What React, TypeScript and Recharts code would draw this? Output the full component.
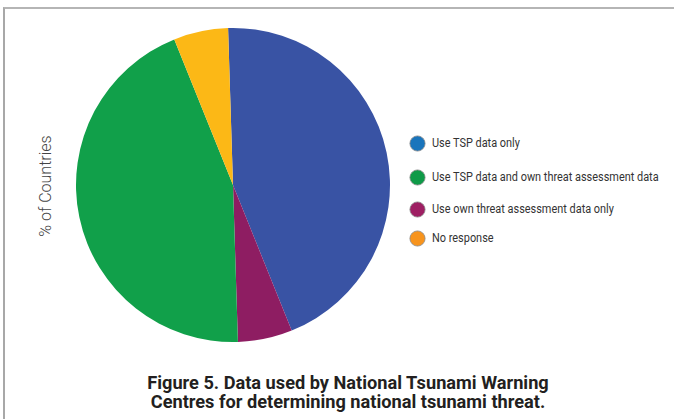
import React from 'react';
import { PieChart, Pie, Cell, Legend } from 'recharts';

// slices in clockwise order from the top
const sliceNames = [
  'Use TSP data only',
  'Use own threat assessment data only',
  'Use TSP data and own threat assessment data',
  'No response',
];
const sliceValues = [44.4, 5.6, 44.4, 5.6];
const sliceColors = ['#3953a4', '#8e1d62', '#11a04a', '#fcb816'];

// legend order and its own (brighter) swatch colours
const legendNames = [
  'Use TSP data only',
  'Use TSP data and own threat assessment data',
  'Use own threat assessment data only',
  'No response',
];
const legendColors = ['#1a75bc', '#0f9a48', '#9e1f63', '#f7941e'];
const legendGaps = [0, 34, 32, 29];

const data = sliceNames.map((name, i) => ({ name, value: sliceValues[i] }));

const LegendBox = () => (
  <div style={{ position: 'relative', fontFamily: 'Roboto, sans-serif', fontSize: 12, color: '#333' }}>
    {legendNames.map((name, i) => (
      <div
        key={name}
        style={{ display: 'flex', alignItems: 'center', height: 18, marginTop: legendGaps[i] - (i ? 18 : 0) }}
      >
        <svg width={17} height={17} style={{ marginRight: 6, flexShrink: 0 }}>
          <circle cx={8.5} cy={8.5} r={7.6} fill={legendColors[i]} stroke="#8a8a8a" strokeWidth={0.8} />
        </svg>
        <span style={{ whiteSpace: 'nowrap', display: 'inline-block', transform: 'scaleX(0.91)', transformOrigin: 'left center' }}>
          {name}
        </span>
      </div>
    ))}
  </div>
);

export default function App() {
  return (
    <div style={{ position: 'fixed', left: 0, top: 0, width: 674, height: 419, background: '#fff', overflow: 'hidden' }}>
      <div
        style={{
          position: 'absolute',
          left: 3,
          top: 7,
          width: 700,
          height: 440,
          borderTop: '2px solid #b5b5b5',
          borderLeft: '2px solid #a8a8a8',
        }}
      />
      <div style={{ position: 'absolute', left: 0, top: 0 }}>
        <PieChart width={674} height={419} margin={{ top: 0, right: 0, bottom: 0, left: 0 }}>
          <Pie
            data={data}
            dataKey="value"
            nameKey="name"
            cx={233}
            cy={185}
            outerRadius={157}
            startAngle={91.8}
            endAngle={-268.2}
            stroke="none"
            isAnimationActive={false}
          >
            {data.map((d, i) => (
              <Cell key={d.name} fill={sliceColors[i]} />
            ))}
          </Pie>
          <Legend
            content={<LegendBox />}
            wrapperStyle={{ position: 'absolute', left: 409, top: 134, width: 320, bottom: 'auto' }}
          />
        </PieChart>
      </div>
      <div
        style={{
          position: 'absolute',
          left: 45,
          top: 186,
          transform: 'translate(-50%, -50%) rotate(-90deg)',
          fontFamily: 'Roboto, sans-serif',
          fontWeight: 300,
          fontSize: 16,
          color: '#444',
          whiteSpace: 'nowrap',
        }}
      >
        % of Countries
      </div>
      <div
        style={{
          position: 'absolute',
          left: 98,
          width: 500,
          top: 373,
          textAlign: 'center',
          fontFamily: 'Roboto, sans-serif',
          fontWeight: 700,
          fontSize: 18.2,
          lineHeight: '19px',
          color: '#231f20',
        }}
      >
        Figure 5. Data used by National Tsunami Warning
        <br />
        Centres for determining national tsunami threat.
      </div>
    </div>
  );
}
